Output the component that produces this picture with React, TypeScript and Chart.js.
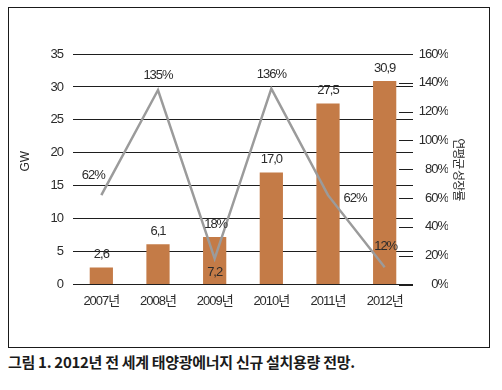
import React, { useEffect, useRef } from "react";
import { Chart, registerables } from "chart.js";

Chart.register(...registerables);

const categories = ["2007년", "2008년", "2009년", "2010년", "2011년", "2012년"];
const capacityGW = [2.6, 6.1, 7.2, 17.0, 27.5, 30.9];
const growthPct = [62, 135, 18, 136, 62, 12];
const gwMax = 35;
const gwStep = 5;
const pctMax = 160;
const pctStep = 20;
const leftTitle = "GW";
const rightTitle = "연평균 성장률";
const caption = "그림 1. 2012년 전 세계 태양광에너지 신규 설치용량 전망.";

// label placement (styling only)
const barLabelInside = [false, false, true, false, false, false];
const growthLabelDx = [-8, 0, 1, 0, 27, 1];
const growthLabelDy = [-20, -15, -34, -14, 3, -21];

const FONT = "'Liberation Sans', 'Noto Sans CJK KR', sans-serif";
const KFONT = "'Noto Sans CJK KR', sans-serif";
const TEXT = "#2b2b2b";
const BAR = "#c47b47";
const LINE = "#9b9b9b";
const SPACING = "-1px";

const fmtGW = (v: number) => v.toFixed(1).replace(".", ",");

const labelPlugin = {
  id: "customLabels",
  beforeUpdate(chart: any) {
    chart.ctx.letterSpacing = SPACING;
  },
  beforeDraw(chart: any) {
    chart.ctx.letterSpacing = SPACING;
  },
  beforeDatasetsDraw(chart: any) {
    const { ctx, chartArea } = chart;
    const s = chart.scales.y1;
    ctx.save();
    ctx.strokeStyle = "#1e1e1e";
    ctx.lineWidth = 1;
    for (let v = 0; v <= pctMax; v += pctStep) {
      const y = Math.round(s.getPixelForValue(v)) + 0.5;
      ctx.beginPath();
      ctx.moveTo(chartArea.right - 14, y);
      ctx.lineTo(chartArea.right, y);
      ctx.stroke();
    }
    ctx.restore();
  },
  afterDatasetsDraw(chart: any) {
    const { ctx } = chart;
    ctx.save();
    ctx.font = `13px ${FONT}`;
    ctx.fillStyle = TEXT;
    ctx.textAlign = "center";
    ctx.textBaseline = "middle";
    const barMeta = chart.getDatasetMeta(1);
    barMeta.data.forEach((el: any, i: number) => {
      const y = barLabelInside[i] ? el.base - 12 : el.y - 13;
      ctx.fillText(fmtGW(capacityGW[i]), el.x, y);
    });
    const lineMeta = chart.getDatasetMeta(0);
    lineMeta.data.forEach((el: any, i: number) => {
      ctx.fillText(`${growthPct[i]}%`, el.x + growthLabelDx[i], el.y + growthLabelDy[i]);
    });
    ctx.restore();
  },
  afterDraw(chart: any) {
    const { ctx, chartArea } = chart;
    const midY = (chartArea.top + chartArea.bottom) / 2;
    ctx.save();
    ctx.letterSpacing = "0px";
    ctx.fillStyle = TEXT;
    ctx.textAlign = "center";
    ctx.textBaseline = "middle";
    ctx.font = `12px ${FONT}`;
    ctx.translate(26, midY - 8);
    ctx.rotate(-Math.PI / 2);
    ctx.fillText(leftTitle, 0, 0);
    ctx.restore();
    ctx.save();
    ctx.letterSpacing = "-1px";
    ctx.fillStyle = TEXT;
    ctx.textAlign = "center";
    ctx.textBaseline = "middle";
    ctx.font = `12px ${KFONT}`;
    ctx.translate(459, midY);
    ctx.rotate(Math.PI / 2);
    ctx.fillText(rightTitle, 0, 0);
    ctx.restore();
  },
};

export default function App() {
  const ref = useRef<HTMLCanvasElement>(null);
  useEffect(() => {
    if (!ref.current) return;
    const chart = new Chart(ref.current, {
      type: "bar",
      data: {
        labels: categories,
        datasets: [
          {
            type: "line",
            data: growthPct,
            yAxisID: "y1",
            borderColor: LINE,
            borderWidth: 2.5,
            pointRadius: 0,
            tension: 0,
            order: 0,
          } as any,
          {
            type: "bar",
            data: capacityGW,
            yAxisID: "y",
            backgroundColor: BAR,
            borderWidth: 0,
            categoryPercentage: 1,
            barPercentage: 0.41,
            order: 1,
          },
        ],
      },
      options: {
        animation: false,
        responsive: false,
        maintainAspectRatio: false,
        layout: { padding: { top: 54, left: 0, right: 54, bottom: 0 } },
        plugins: { legend: { display: false }, tooltip: { enabled: false } },
        font: { family: FONT },
        scales: {
          x: {
            grid: { display: false, drawTicks: false },
            border: { display: false },
            ticks: { color: TEXT, font: { family: FONT, size: 13 }, padding: 9, maxRotation: 0 },
            afterFit: (s: any) => { s.height = 65.5; },
          },
          y: {
            position: "left",
            min: 0,
            max: gwMax,
            ticks: { stepSize: gwStep, color: TEXT, font: { family: FONT, size: 13 }, padding: 10 },
            grid: { color: "#1e1e1e", lineWidth: 1, drawTicks: false },
            border: { display: false },
            afterFit: (s: any) => { s.width = 73; },
          },
          y1: {
            position: "right",
            min: 0,
            max: pctMax,
            ticks: {
              stepSize: pctStep,
              color: TEXT,
              font: { family: FONT, size: 13 },
              padding: 8,
              crossAlign: "far",
              callback: (v: any) => `${v}%`,
            },
            grid: { display: false, drawTicks: false },
            border: { display: false },
            afterFit: (s: any) => { s.width = 35; },
          },
        },
      } as any,
      plugins: [labelPlugin],
    });
    return () => chart.destroy();
  }, []);

  return (
    <div style={{ position: "absolute", left: 0, top: 0, width: 502, height: 390, background: "#fff" }}>
      <div
        style={{
          position: "absolute",
          left: 8,
          top: 7,
          width: 482,
          height: 341,
          boxSizing: "border-box",
          border: "1.5px solid #1a1a1a",
        }}
      />
      <canvas ref={ref} width={502} height={350} style={{ position: "absolute", left: 0, top: 0 }} />
      <div
        style={{
          position: "absolute",
          left: 8,
          top: 352,
          fontFamily: KFONT,
          fontWeight: 700,
          fontSize: 15,
          lineHeight: "20px",
          color: "#1a1a1a",
          whiteSpace: "nowrap",
          letterSpacing: "-0.3px",
        }}
      >
        {caption}
      </div>
    </div>
  );
}
